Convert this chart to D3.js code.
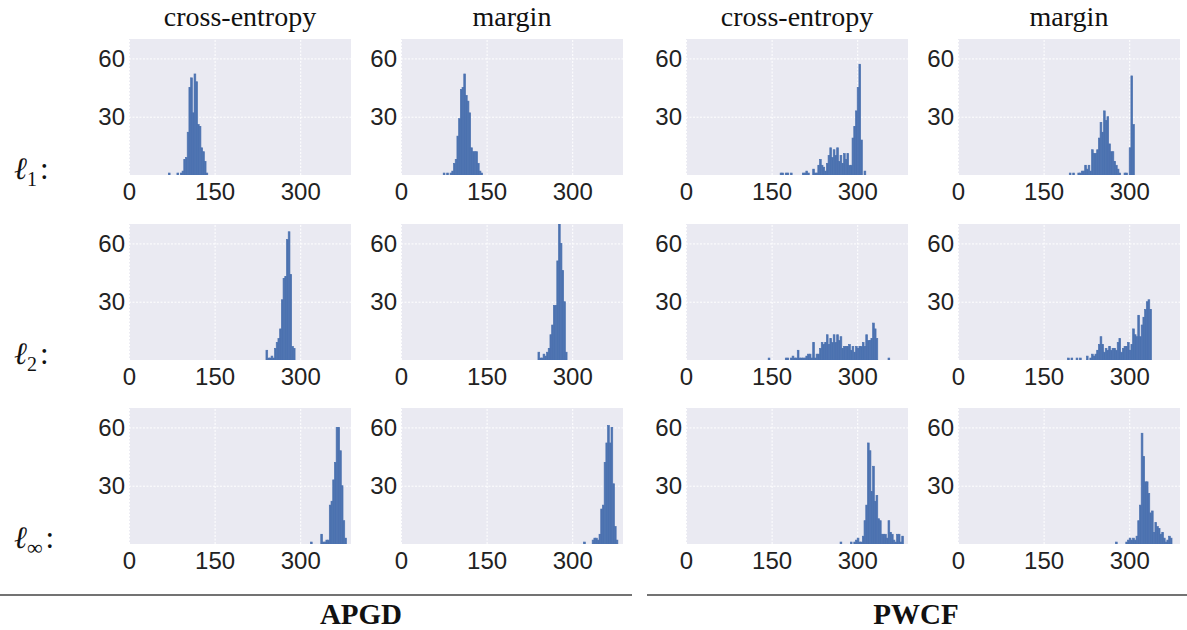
<!DOCTYPE html>
<html><head><meta charset="utf-8">
<script src="https://cdn.jsdelivr.net/npm/d3@7"></script>
<style>body{margin:0;background:#fff}</style>
</head><body><svg id="c" width="1187" height="630"></svg>
<script>
// ---------- data ----------
const colTitles = ["cross-entropy", "margin", "cross-entropy", "margin"];
const rowSubs = ["1", "2", "\u221E"];
const groupLabels = ["APGD", "PWCF"];
const xTicks = [0, 150, 300];
const yTicks = [30, 60];
const binWidth = 3;

// row l1
const apgdCE_l1_start = 69;
const apgdCE_l1 = [1,0,0,0,0,1,0,1,2,8,9,22,45,50,32,52,48,26,25,14,12,7,1];
const apgdM_l1_start = 74;
const apgdM_l1 = [1,0,1,0,1,2,6,8,20,29,44,45,52,41,38,32,14,12,12,12,6,2,1];
const pwcfCE_l1_start = 165;
const pwcfCE_l1 = [1,1,0,1,1,0,1,0,0,0,0,0,0,1,1,2,1,0,0,3,1,1,5,8,5,4,2,6,10,14,9,13,10,14,7,10,6,11,8,11,5,5,19,25,33,45,57,18,0,2];
const pwcfM_l1_start = 195;
const pwcfM_l1 = [1,0,1,0,0,1,1,2,2,5,3,5,2,13,11,11,13,19,27,22,33,28,30,16,12,12,7,5,3,1,0,0,1,1,0,14,51,26];
// row l2
const apgdCE_l2_start = 240;
const apgdCE_l2 = [5,1,1,2,1,6,9,11,16,31,42,43,62,66,44,7,6];
const apgdM_l2_start = 240;
const apgdM_l2 = [4,1,1,3,2,4,6,13,18,28,28,51,70,60,46,30,4];
const pwcfCE_l2_start = 144;
const pwcfCE_l2 = [1,0,0,0,0,0,0,0,0,0,1,1,0,1,2,1,1,5,1,1,1,1,2,3,3,1,9,1,3,3,6,9,8,9,13,8,11,9,13,9,13,10,12,6,7,7,7,8,5,7,4,7,6,7,7,9,7,13,10,10,11,19,16,11,0,0,0,0,0,0,1];
const pwcfM_l2_start = 192;
const pwcfM_l2 = [1,0,1,0,0,1,0,1,0,0,0,2,0,1,3,2,3,5,8,12,8,4,6,5,7,5,6,6,5,9,11,4,6,7,7,9,5,8,16,13,12,23,12,18,22,26,30,31,26];
// row linf
const apgdCE_linf_start = 318;
const apgdCE_linf = [1,0,0,0,0,0,5,1,1,2,2,20,22,33,42,60,60,48,30,12,3];
const apgdM_linf_start = 320;
const apgdM_linf = [1,0,0,0,0,2,3,3,2,5,18,20,42,52,61,52,60,31,9,2];
const pwcfCE_linf_start = 270;
const pwcfCE_linf = [1,0,0,0,0,0,1,0,1,2,3,1,1,4,12,20,52,48,27,40,22,25,13,12,5,5,5,3,12,6,5,2,1,5,5,1,4];
const pwcfM_linf_start = 276;
const pwcfM_linf = [1,0,0,0,0,0,1,2,3,2,3,2,4,12,20,57,45,32,32,26,16,17,6,11,9,8,5,6,3,1,2,4,3];

const panels = [
  {row:0,col:0,start:apgdCE_l1_start,counts:apgdCE_l1},
  {row:0,col:1,start:apgdM_l1_start,counts:apgdM_l1},
  {row:0,col:2,start:pwcfCE_l1_start,counts:pwcfCE_l1},
  {row:0,col:3,start:pwcfM_l1_start,counts:pwcfM_l1},
  {row:1,col:0,start:apgdCE_l2_start,counts:apgdCE_l2},
  {row:1,col:1,start:apgdM_l2_start,counts:apgdM_l2},
  {row:1,col:2,start:pwcfCE_l2_start,counts:pwcfCE_l2},
  {row:1,col:3,start:pwcfM_l2_start,counts:pwcfM_l2},
  {row:2,col:0,start:apgdCE_linf_start,counts:apgdCE_linf},
  {row:2,col:1,start:apgdM_linf_start,counts:apgdM_linf},
  {row:2,col:2,start:pwcfCE_linf_start,counts:pwcfCE_linf},
  {row:2,col:3,start:pwcfM_linf_start,counts:pwcfM_linf}
];

// ---------- layout ----------
const colX = [129, 401, 686, 958];
const rowY = [39, 224, 408];
const W = 222, H = 136;
const BAR = "#4C72B0", BG = "#EAEAF2";
const tickFont = "'Liberation Sans', Arial, sans-serif";
const serif = "'Liberation Serif', 'Times New Roman', serif";

const svg = d3.select("#c");
const x = d3.scaleLinear().domain([0, 389]).range([0, W]);
const y = d3.scaleLinear().domain([0, 70]).range([H, 0]);

svg.append("defs").append("clipPath").attr("id", "clip")
  .append("rect").attr("width", W).attr("height", H);

panels.forEach(p => {
  const g = svg.append("g").attr("transform", `translate(${colX[p.col]},${rowY[p.row]})`);
  g.append("rect").attr("width", W).attr("height", H).attr("fill", BG);

  const gx = g.append("g").attr("transform", `translate(0,${H})`)
    .call(d3.axisBottom(x).tickValues(xTicks).tickSize(-H).tickPadding(8).tickFormat(d3.format("d")));
  const gy = g.append("g")
    .call(d3.axisLeft(y).tickValues(yTicks).tickSize(-W).tickPadding(4).tickFormat(d3.format("d")));
  [gx, gy].forEach(a => {
    a.select(".domain").remove();
    a.selectAll(".tick line").attr("stroke", "#fff").attr("stroke-width", 1).attr("stroke-dasharray", "2,1.5");
    a.selectAll(".tick text").attr("fill", "#222").style("font-family", tickFont).style("font-size", "24px");
  });

  const bins = p.counts.map((c, i) => ({x0: p.start + i * binWidth, c}));
  g.append("g").attr("clip-path", "url(#clip)")
    .selectAll("rect").data(bins.filter(b => b.c > 0)).join("rect")
    .attr("x", b => x(b.x0))
    .attr("width", b => x(b.x0 + binWidth) - x(b.x0))
    .attr("y", b => y(b.c))
    .attr("height", b => y(0) - y(b.c))
    .attr("fill", BAR)
    .attr("stroke", BAR).attr("stroke-width", 0.7);
});

// column titles
colTitles.forEach((t, i) => {
  svg.append("text").attr("x", colX[i] + W / 2).attr("y", 26)
    .attr("text-anchor", "middle").style("font-family", serif).style("font-size", "28px")
    .attr("fill", "#111").text(t);
});

// row labels
rowSubs.forEach((s, i) => {
  const t = svg.append("text").attr("x", 14).attr("y", rowY[i] + H + 4)
    .style("font-family", serif).style("font-size", "31px").attr("fill", "#111");
  t.append("tspan").style("font-style", "italic").text("\u2113");
  t.append("tspan").attr("dy", 7).style("font-size", s === "\u221E" ? "22px" : "20px").text(s);
  t.append("tspan").attr("dy", -7).attr("dx", 3).text(":");
});

// group rules and labels
const ruleY = 595;
svg.append("line").attr("x1", 0).attr("x2", 632).attr("y1", ruleY).attr("y2", ruleY)
  .attr("stroke", "#444").attr("stroke-width", 1.3);
svg.append("line").attr("x1", 647).attr("x2", 1187).attr("y1", ruleY).attr("y2", ruleY)
  .attr("stroke", "#444").attr("stroke-width", 1.3);
groupLabels.forEach((t, i) => {
  svg.append("text").attr("x", i === 0 ? 361 : 916).attr("y", 624)
    .attr("text-anchor", "middle").style("font-family", serif).style("font-weight", "bold")
    .style("font-size", "29px").attr("fill", "#111").text(t);
});
</script></body></html>
